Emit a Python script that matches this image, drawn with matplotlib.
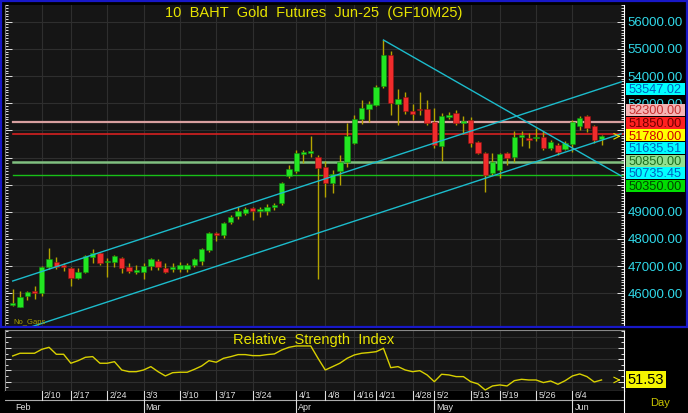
import numpy as np
import matplotlib.pyplot as plt
from matplotlib.patches import Rectangle
from matplotlib.ticker import MultipleLocator, FixedLocator
from matplotlib.transforms import blended_transform_factory, Bbox, TransformedBbox

plt.rcParams['font.family'] = ['Liberation Sans', 'DejaVu Sans']

# daily bars, feb 4 .. jun 10 (no gaps)
opens = [45569, 45495, 45901, 46085, 46011, 46968, 47152, 47041, 46931, 46563,
         46784, 47336, 47483, 47152, 47152, 47299, 46968, 46784, 46784, 47005,
         47189, 46931, 46894, 46894, 46894, 47041, 47189, 47594, 48220, 48146,
         48625, 48846, 48956, 49140, 49030, 49030, 49177, 49325, 50319, 50503,
         51129, 51166, 51018, 50650, 50061, 50503, 50834, 51534, 52417, 52786,
         52933, 53633, 54774, 52970, 53227, 52712, 52786, 52786, 52307, 51423,
         52491, 52638, 52270, 52381, 51570, 51166, 50429, 50540, 51166, 51018,
         51755, 51718, 51718, 51755, 51350, 51460, 51313, 51497, 52160, 52528,
         52160, 51681]
highs = [46158, 46085, 46070, 46268, 46990, 47668, 47336, 47115, 46960, 46931,
         47400, 47631, 47520, 47299, 47400, 47336, 47115, 47041, 47115, 47299,
         47262, 47115, 47115, 47152, 47115, 47299, 47668, 48257, 48240, 48625,
         48883, 49177, 49177, 49160, 49177, 49287, 49325, 50098, 50724, 51276,
         51276, 51791, 51092, 50871, 50540, 51092, 52270, 52565, 53117, 53080,
         53670, 55326, 54921, 53522, 53410, 52970, 53410, 53117, 52822, 52638,
         52680, 52749, 52528, 52491, 51607, 51202, 51166, 51166, 51200, 51976,
         51976, 51902, 52086, 51976, 51644, 51534, 51607, 52381, 52528, 52565,
         52197, 51828]
lows = [45532, 45480, 45753, 45790, 45901, 46894, 46894, 46820, 46268, 46526,
        46747, 47115, 47041, 46600, 46968, 46747, 46747, 46710, 46526, 46857,
        46857, 46747, 46784, 46784, 46784, 46968, 47041, 47520, 47925, 48035,
        48550, 48736, 48883, 48699, 48809, 48883, 49067, 49250, 50245, 50429,
        50797, 51018, 46526, 49546, 49693, 49987, 50650, 51497, 52233, 52307,
        52896, 53560, 52565, 52197, 52601, 52381, 52565, 52197, 51350, 50871,
        52420, 52197, 51865, 51386, 51129, 49730, 50356, 50245, 50724, 50834,
        51423, 51350, 51607, 51276, 51276, 51092, 51276, 51202, 52013, 51939,
        51534, 51460]
closes = [45643, 45864, 46048, 46011, 46968, 47262, 46968, 46968, 46563, 46784,
          47373, 47483, 47115, 47152, 47373, 46931, 46820, 46857, 47005, 47262,
          46968, 46784, 46968, 47041, 47041, 47262, 47631, 48220, 48146, 48588,
          48809, 49030, 49103, 49030, 49103, 49177, 49250, 50061, 50576, 51166,
          51202, 51239, 50613, 50061, 50392, 50834, 51791, 52417, 52822, 52970,
          53596, 54774, 53006, 53154, 52712, 52601, 52749, 52270, 51460, 52528,
          52565, 52270, 52344, 51534, 51166, 50356, 50834, 51129, 50981, 51755,
          51828, 51644, 51755, 51350, 51570, 51202, 51534, 52307, 52454, 52086,
          51644, 51780]
rsi = [72.9, 75.3, 75.3, 75.3, 78.8, 80.6, 74.4, 74.4, 66.4, 68.7,
       71.7, 72.3, 66.4, 66.4, 67.8, 60.4, 58.9, 58.9, 60.4, 63.4,
       58.9, 55.1, 58.0, 58.4, 58.4, 61.0, 64.0, 68.7, 67.3, 70.8,
       72.3, 74.1, 74.1, 73.2, 73.2, 74.1, 74.7, 78.2, 80.6, 81.8,
       81.8, 81.8, 70.8, 60.4, 63.4, 66.4, 70.8, 73.8, 75.3, 75.9,
       76.7, 79.7, 62.5, 63.4, 60.4, 58.9, 59.8, 56.0, 50.0, 56.6,
       56.0, 54.5, 54.5, 50.0, 48.0, 42.6, 46.2, 47.1, 46.2, 50.9,
       52.1, 51.5, 51.5, 49.2, 50.6, 47.7, 50.9, 55.1, 56.9, 54.5,
       49.7, 51.53]

tick_idx = [4, 8, 13, 18, 23, 28, 33, 39, 43, 47, 50, 55, 58, 63, 67, 72, 77]
tick_labels = ['2/10', '2/17', '2/24', '3/3', '3/10', '3/17', '3/24', '4/1', '4/8',
               '4/16', '4/21', '4/28', '5/2', '5/13', '5/19', '5/26', '6/4']
month_idx = [0, 18, 39, 58, 77]
month_labels = ['Feb', 'Mar', 'Apr', 'May', 'Jun']
price_ticks = [46000, 47000, 48000, 49000, 50000, 51000, 52000, 53000, 54000, 55000, 56000]

# horizontal levels
levels = [52300, 51850, 50850, 50350]
level_colors = ['#d8a0a0', '#d42020', '#80c080', '#18c018']
level_widths = [1.6, 1.2, 1.8, 1.0]

# trend lines: (start bar, start price), value at last bar
upper_start = (0, 46452)
upper_last = 53547.02
lower_last = 51635.51
down_start = (51, 55326)
down_last = 50735.45

label_values = [53547.02, 52300, 51850, 51780, 51635.51, 50850, 50735.45, 50350]
label_bg = ['#00ffff', '#f4b4b4', '#ff2020', '#ffff00', '#00ffff', '#90e090', '#00ffff', '#00dd00']
label_fg = ['#0060c0', '#c83030', '#700000', '#d00000', '#0060c0', '#1e6e1e', '#0060c0', '#004400']

W, H = 688, 413
BG = '#151515'
GRID = '#2e2e2e'
CYAN = '#1cbccc'
WICK = '#b4a400'
n = len(closes)
last = n - 1
x_end = 83.7
YMIN, YMAX = 44796, 56615

fig = plt.figure(figsize=(W / 100, H / 100), dpi=100, facecolor='black')


def px_axes(x0, y0, x1, y1):
    return fig.add_axes([x0 / W, 1 - y1 / H, (x1 - x0) / W, (y1 - y0) / H])


def stack_labels(vals, step):
    groups = [[v] for v in sorted(vals, reverse=True)]
    merged = True
    while merged:
        merged = False
        for k in range(len(groups) - 1):
            a, b = groups[k], groups[k + 1]
            a_bot = np.mean(a) - (len(a) - 1) / 2 * step
            b_top = np.mean(b) + (len(b) - 1) / 2 * step
            if a_bot - b_top < step:
                groups[k] = a + b
                del groups[k + 1]
                merged = True
                break
    pos = {}
    for g in groups:
        c = np.mean(g)
        for j, v in enumerate(g):
            pos[v] = c + ((len(g) - 1) / 2 - j) * step
    return pos


# ---- price panel
ax = px_axes(5, 5, 624, 326)
ax.set_facecolor(BG)
ax.set_xlim(-1.06, 84.09)
ax.set_ylim(YMIN, YMAX)
ax.set_xticks(tick_idx)
ax.tick_params(axis='x', bottom=False, labelbottom=False)
ax.yaxis.set_major_locator(FixedLocator(price_ticks))
ax.yaxis.set_minor_locator(MultipleLocator(100))
ax.tick_params(axis='y', which='both', left=True, right=True, direction='in',
               labelleft=False, labelright=False, colors='white', width=0.6)
ax.tick_params(axis='y', which='major', length=5)
ax.tick_params(axis='y', which='minor', length=2.5)
ax.grid(True, color=GRID, lw=0.8)
for s in ['top', 'bottom']:
    ax.spines[s].set_visible(False)
ax.spines['left'].set_color('#777777')
ax.spines['right'].set_color('white')

idx = np.arange(n)
o = np.array(opens)
c = np.array(closes)
up = c >= o
ax.vlines(idx, lows, highs, color=WICK, lw=1, zorder=3)
body = np.maximum(np.abs(c - o), 50)
bottom = np.minimum(o, c)
ax.bar(idx[up], body[up], bottom=bottom[up], width=0.74, color='#22e622',
       edgecolor='#109010', lw=0.4, zorder=4)
ax.bar(idx[~up], body[~up], bottom=bottom[~up], width=0.74, color='#f02c2c',
       edgecolor='#901010', lw=0.4, zorder=4)

for lv, col, lw in zip(levels, level_colors, level_widths):
    ax.plot([0, 84.09], [lv, lv], color=col, lw=lw, zorder=2)

slope = (upper_last - upper_start[1]) / (last - upper_start[0])
xs = np.array([upper_start[0], x_end])
ax.plot(xs, upper_last + slope * (xs - last), color=CYAN, lw=1, zorder=5)
xs = np.array([-2, x_end])
ax.plot(xs, lower_last + slope * (xs - last), color=CYAN, lw=1, zorder=5)
dslope = (down_last - down_start[1]) / (last - down_start[0])
xs = np.array([down_start[0], x_end])
ax.plot(xs, down_last + dslope * (xs - last), color=CYAN, lw=1, zorder=5)

ax.annotate('', xy=(84.0, closes[-1]), xytext=(82.9, closes[-1]),
            arrowprops=dict(arrowstyle='->', color='#e8e000', lw=0.8), zorder=6)

# right side value labels, stacked so they do not overlap
step = 12.6 * (YMAX - YMIN) / 321
pos = stack_labels(label_values, step)
tr = blended_transform_factory(ax.transAxes, ax.transData)
for v, bg, fg in zip(label_values, label_bg, label_fg):
    ax.add_patch(Rectangle((1.004, pos[v] - step / 2), 0.095, step * 0.96,
                           transform=tr, fc=bg, ec='none', clip_on=False, zorder=9))
    ax.text(1.007, pos[v], f"{v:.2f}", transform=tr, ha='left', va='center_baseline',
            fontsize=9.2, color=fg, clip_on=False, zorder=10)

# price scale; values under the label boxes are hidden or cut like the terminal does
box_pos = np.array(list(pos.values()))
for t in price_ticks:
    d = box_pos - t
    near = d[np.argmin(np.abs(d))]
    if abs(near) < step / 2:
        continue
    txt = fig.text(1.006, t, f"{t:.2f}", transform=tr, ha='left', va='center_baseline',
                   fontsize=9.5, color='#30d8e8', zorder=1)
    if abs(near) < step:
        if near < 0:
            lo, hi = near + t + step / 2, YMAX + 2000
        else:
            lo, hi = YMIN - 2000, near + t - step / 2
        txt.set_clip_box(TransformedBbox(Bbox([[1.0, lo], [1.2, hi]]), tr))
        txt.set_clip_on(True)

fig.text(314 / W, 1 - 13 / H, '10  BAHT  Gold  Futures  Jun-25  (GF10M25)',
         color='#e8e400', fontsize=10.5, ha='center', va='center')
fig.text(13 / W, 1 - 322 / H, 'No_Gaps', color='#a8a000', fontsize=5.5,
         ha='left', va='center')

# ---- rsi panel
ax2 = px_axes(5, 330, 624, 391)
ax2.set_facecolor(BG)
ax2.set_xlim(-1.06, 84.09)
ax2.set_ylim(41.7, 96.0)
ax2.set_xticks(tick_idx)
ax2.tick_params(axis='x', bottom=False, labelbottom=False)
ax2.yaxis.set_major_locator(MultipleLocator(10))
ax2.yaxis.set_minor_locator(MultipleLocator(5))
ax2.tick_params(axis='y', which='both', left=True, right=True, direction='in',
                labelleft=False, labelright=False, colors='white', width=0.6)
ax2.tick_params(axis='y', which='major', length=4)
ax2.tick_params(axis='y', which='minor', length=2.5)
ax2.grid(True, color=GRID, lw=0.8)
ax2.spines['top'].set_color('#888888')
ax2.spines['left'].set_color('#888888')
ax2.spines['right'].set_color('white')
ax2.spines['bottom'].set_color('white')
ax2.plot(idx, rsi, color='#d8d000', lw=1, zorder=3)
ax2.annotate('', xy=(84.0, rsi[-1]), xytext=(82.9, rsi[-1]),
             arrowprops=dict(arrowstyle='->', color='#e8e000', lw=0.8))
ax2.text(1.006, rsi[-1], f"{rsi[-1]:.2f}", transform=blended_transform_factory(ax2.transAxes, ax2.transData),
         ha='left', va='center', fontsize=10.5, color='black', clip_on=False,
         bbox=dict(boxstyle='square,pad=0.1', fc='#f4f400', ec='none'))
fig.text(314 / W, 1 - 340 / H, 'Relative  Strength  Index', color='#e8e400',
         fontsize=10.5, ha='center', va='center')

# ---- date axis
ax3 = px_axes(5, 391, 624, 413)
ax3.set_facecolor('black')
ax3.set_xlim(-1.06, 84.09)
ax3.set_ylim(0, 22)
ax3.set_xticks([])
ax3.set_yticks([])
for s in ['top', 'bottom', 'left']:
    ax3.spines[s].set_visible(False)
ax3.spines['right'].set_color('white')
ax3.axhline(13, color='#aaaaaa', lw=0.8)
for i, lab in zip(tick_idx, tick_labels):
    ax3.plot([i, i], [13, 22], color='#dddddd', lw=0.8)
    ax3.text(i + 0.3, 17.3, lab, color='#e0e0e0', fontsize=6.5, ha='left', va='center')
for i, lab in zip(month_idx, month_labels):
    if i > 0:
        ax3.plot([i, i], [0, 13], color='#dddddd', lw=0.8)
    ax3.text(i + 0.3, 6, lab, color='#e0e0e0', fontsize=6.5, ha='left', va='center')
fig.text(660 / W, 1 - 403 / H, 'Day', color='#c8c400', fontsize=8,
         ha='center', va='center')

# blue frame round the price panel
fig.patches.append(Rectangle((1 / W, 1 - 327 / H), 686 / W, 326 / H,
                             transform=fig.transFigure, fill=False,
                             ec='#1818c8', lw=1.6))

fig.savefig('out.png', dpi=100, facecolor='black')
